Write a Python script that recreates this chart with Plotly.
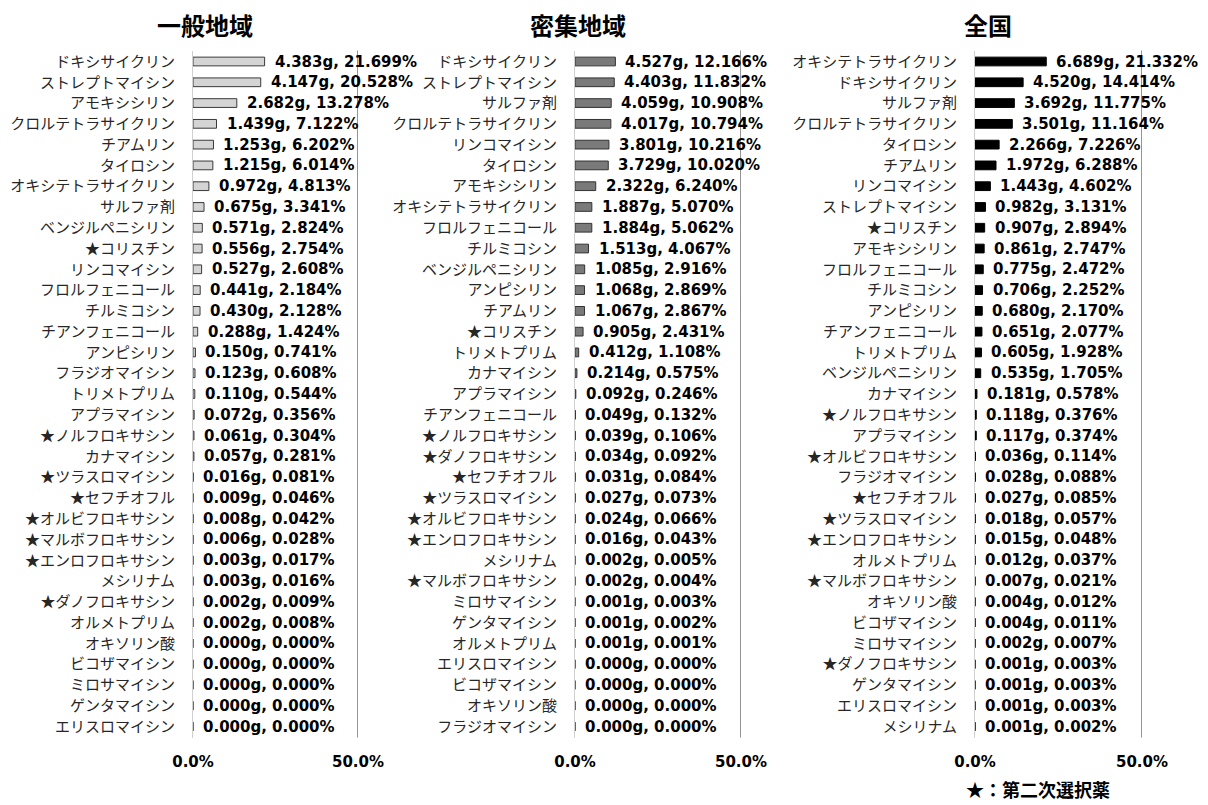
import plotly.graph_objects as go

# ---- data -------------------------------------------------------------
panel_titles = ["一般地域", "密集地域", "全国"]

general_names = [
    "ドキシサイクリン", "ストレプトマイシン", "アモキシシリン", "クロルテトラサイクリン",
    "チアムリン", "タイロシン", "オキシテトラサイクリン", "サルファ剤", "ベンジルペニシリン",
    "★コリスチン", "リンコマイシン", "フロルフェニコール", "チルミコシン", "チアンフェニコール",
    "アンピシリン", "フラジオマイシン", "トリメトプリム", "アプラマイシン", "★ノルフロキサシン",
    "カナマイシン", "★ツラスロマイシン", "★セフチオフル", "★オルビフロキサシン",
    "★マルボフロキサシン", "★エンロフロキサシン", "メシリナム", "★ダノフロキサシン",
    "オルメトプリム", "オキソリン酸", "ビコザマイシン", "ミロサマイシン", "ゲンタマイシン",
    "エリスロマイシン",
]
general_grams = [
    4.383, 4.147, 2.682, 1.439, 1.253, 1.215, 0.972, 0.675, 0.571, 0.556, 0.527,
    0.441, 0.430, 0.288, 0.150, 0.123, 0.110, 0.072, 0.061, 0.057, 0.016, 0.009,
    0.008, 0.006, 0.003, 0.003, 0.002, 0.002, 0.000, 0.000, 0.000, 0.000, 0.000,
]
general_pct = [
    21.699, 20.528, 13.278, 7.122, 6.202, 6.014, 4.813, 3.341, 2.824, 2.754, 2.608,
    2.184, 2.128, 1.424, 0.741, 0.608, 0.544, 0.356, 0.304, 0.281, 0.081, 0.046,
    0.042, 0.028, 0.017, 0.016, 0.009, 0.008, 0.000, 0.000, 0.000, 0.000, 0.000,
]

dense_names = [
    "ドキシサイクリン", "ストレプトマイシン", "サルファ剤", "クロルテトラサイクリン",
    "リンコマイシン", "タイロシン", "アモキシシリン", "オキシテトラサイクリン",
    "フロルフェニコール", "チルミコシン", "ベンジルペニシリン", "アンピシリン", "チアムリン",
    "★コリスチン", "トリメトプリム", "カナマイシン", "アプラマイシン", "チアンフェニコール",
    "★ノルフロキサシン", "★ダノフロキサシン", "★セフチオフル", "★ツラスロマイシン",
    "★オルビフロキサシン", "★エンロフロキサシン", "メシリナム", "★マルボフロキサシン",
    "ミロサマイシン", "ゲンタマイシン", "オルメトプリム", "エリスロマイシン", "ビコザマイシン",
    "オキソリン酸", "フラジオマイシン",
]
dense_grams = [
    4.527, 4.403, 4.059, 4.017, 3.801, 3.729, 2.322, 1.887, 1.884, 1.513, 1.085,
    1.068, 1.067, 0.905, 0.412, 0.214, 0.092, 0.049, 0.039, 0.034, 0.031, 0.027,
    0.024, 0.016, 0.002, 0.002, 0.001, 0.001, 0.001, 0.000, 0.000, 0.000, 0.000,
]
dense_pct = [
    12.166, 11.832, 10.908, 10.794, 10.216, 10.020, 6.240, 5.070, 5.062, 4.067, 2.916,
    2.869, 2.867, 2.431, 1.108, 0.575, 0.246, 0.132, 0.106, 0.092, 0.084, 0.073,
    0.066, 0.043, 0.005, 0.004, 0.003, 0.002, 0.001, 0.000, 0.000, 0.000, 0.000,
]

national_names = [
    "オキシテトラサイクリン", "ドキシサイクリン", "サルファ剤", "クロルテトラサイクリン",
    "タイロシン", "チアムリン", "リンコマイシン", "ストレプトマイシン", "★コリスチン",
    "アモキシシリン", "フロルフェニコール", "チルミコシン", "アンピシリン", "チアンフェニコール",
    "トリメトプリム", "ベンジルペニシリン", "カナマイシン", "★ノルフロキサシン", "アプラマイシン",
    "★オルビフロキサシン", "フラジオマイシン", "★セフチオフル", "★ツラスロマイシン",
    "★エンロフロキサシン", "オルメトプリム", "★マルボフロキサシン", "オキソリン酸",
    "ビコザマイシン", "ミロサマイシン", "★ダノフロキサシン", "ゲンタマイシン",
    "エリスロマイシン", "メシリナム",
]
national_grams = [
    6.689, 4.520, 3.692, 3.501, 2.266, 1.972, 1.443, 0.982, 0.907, 0.861, 0.775,
    0.706, 0.680, 0.651, 0.605, 0.535, 0.181, 0.118, 0.117, 0.036, 0.028, 0.027,
    0.018, 0.015, 0.012, 0.007, 0.004, 0.004, 0.002, 0.001, 0.001, 0.001, 0.001,
]
national_pct = [
    21.332, 14.414, 11.775, 11.164, 7.226, 6.288, 4.602, 3.131, 2.894, 2.747, 2.472,
    2.252, 2.170, 2.077, 1.928, 1.705, 0.578, 0.376, 0.374, 0.114, 0.088, 0.085,
    0.057, 0.048, 0.037, 0.021, 0.012, 0.011, 0.007, 0.003, 0.003, 0.003, 0.002,
]

x_tick_vals = [0, 50]
x_tick_text = ["0.0%", "50.0%"]
footnote = "★：第二次選択薬"

# ---- styling ----------------------------------------------------------
W, H = 1208, 805
panels = [
    dict(names=general_names, grams=general_grams, pct=general_pct,
         fill="#d4d4d4", edge="#3a3a3a", left=193, right=358, title_x=205),
    dict(names=dense_names, grams=dense_grams, pct=dense_pct,
         fill="#7a7a7a", edge="#333333", left=575, right=741, title_x=578),
    dict(names=national_names, grams=national_grams, pct=national_pct,
         fill="#000000", edge="#000000", left=975, right=1142, title_x=988),
]
plot_top, plot_bottom = 50.5, 737.5

LABEL_FONT = dict(family="DejaVu Sans", size=15, color="#000000", weight="bold")
CAT_FONT = dict(family="Noto Sans CJK JP", size=15, color="#262626")

fig = go.Figure()
annotations = []
shapes = []

for i, p in enumerate(panels, start=1):
    xa = "x" if i == 1 else f"x{i}"
    ya = "y" if i == 1 else f"y{i}"
    fig.add_trace(go.Bar(
        x=p["pct"], y=p["names"], orientation="h",
        marker=dict(color=p["fill"], line=dict(color=p["edge"], width=1)),
        width=0.42, xaxis=xa, yaxis=ya, showlegend=False,
        hoverinfo="skip",
    ))
    for name, g, v in zip(p["names"], p["grams"], p["pct"]):
        annotations.append(dict(
            x=v, y=name, xref=xa, yref=ya, text=f"{g:.3f}g, {v:.3f}%",
            showarrow=False, xanchor="left", yanchor="middle", xshift=8,
            font=LABEL_FONT,
        ))
    # 50% reference line
    shapes.append(dict(type="line", xref=xa, yref=f"{ya} domain",
                       x0=50, x1=50, y0=0, y1=1,
                       line=dict(color="#4d4d4d", width=1.2)))
    annotations.append(dict(
        x=p["title_x"] / W, y=1 - 24 / H, xref="paper", yref="paper",
        text=panel_titles[i - 1], showarrow=False, xanchor="center", yanchor="middle",
        font=dict(family="Noto Sans CJK JP", size=24, color="#000000", weight="bold"),
    ))

    dom_x = [p["left"] / W, p["right"] / W]
    dom_y = [1 - plot_bottom / H, 1 - plot_top / H]
    xkey = "xaxis" if i == 1 else f"xaxis{i}"
    ykey = "yaxis" if i == 1 else f"yaxis{i}"
    fig.update_layout({
        xkey: dict(domain=dom_x, anchor=ya, range=[0, 50], tickvals=x_tick_vals,
                   ticktext=x_tick_text, showgrid=False, zeroline=False,
                   showline=False, ticks="", ticklabelstandoff=13, automargin=False,
                   tickfont=dict(family="DejaVu Sans", size=15, color="#000000",
                                 weight="bold")),
        ykey: dict(domain=dom_y, anchor=xa, type="category",
                   categoryorder="array", categoryarray=p["names"],
                   autorange="reversed", showgrid=False, zeroline=False,
                   showline=True, linecolor="#d0d0d0", linewidth=1, ticks="",
                   ticklabelstandoff=14, automargin=False, tickfont=CAT_FONT),
    })

annotations.append(dict(
    x=1038 / W, y=1 - 789 / H, xref="paper", yref="paper", text=footnote,
    showarrow=False, xanchor="center", yanchor="middle",
    font=dict(family="Noto Sans CJK JP", size=18, color="#000000", weight="bold"),
))

fig.update_layout(
    width=W, height=H, margin=dict(l=0, r=0, t=0, b=0),
    paper_bgcolor="#ffffff", plot_bgcolor="rgba(0,0,0,0)",
    bargap=0.58, annotations=annotations, shapes=shapes,
)

fig.write_html("out.html")
